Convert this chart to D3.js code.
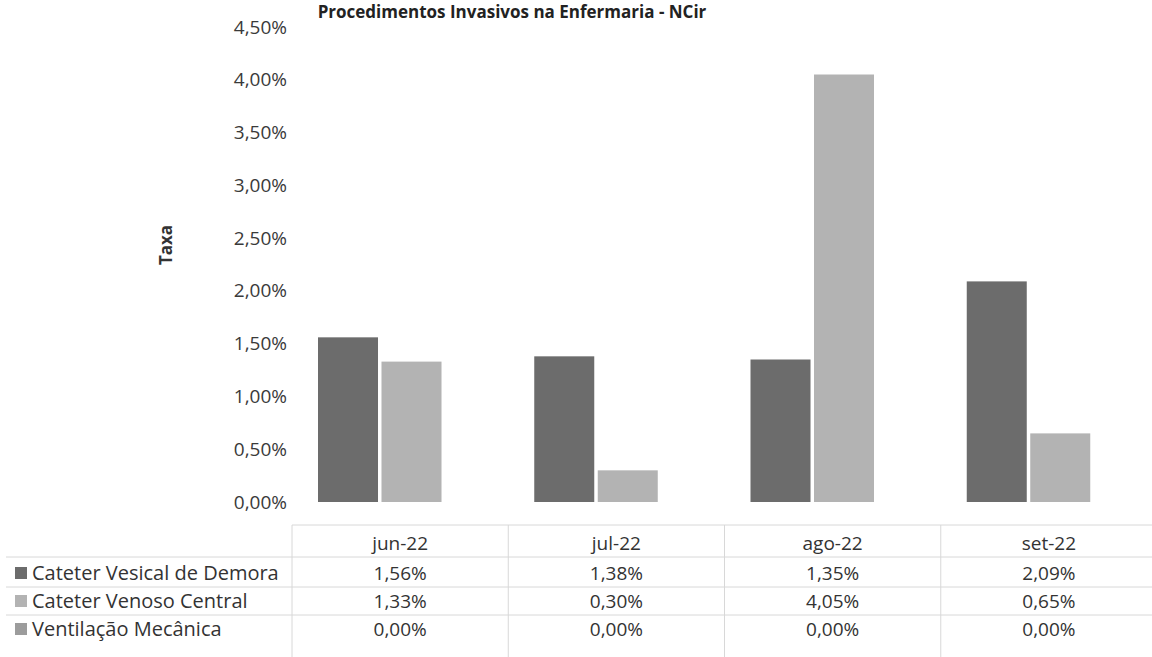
<!DOCTYPE html>
<html>
<head>
<meta charset="utf-8">
<script src="https://cdn.jsdelivr.net/npm/d3@7"></script>
<style>
  body { margin: 0; background: #fff; }
  text { font-family: "Open Sans", sans-serif; }
</style>
</head>
<body>
<div id="chart"></div>
<script>
var months = ["jun-22", "jul-22", "ago-22", "set-22"];
var seriesNames = ["Cateter Vesical de Demora", "Cateter Venoso Central", "Ventilação Mecânica"];
var vesical = [0.0156, 0.0138, 0.0135, 0.0209];
var venoso = [0.0133, 0.0030, 0.0405, 0.0065];
var ventilacao = [0, 0, 0, 0];
var seriesColors = ["#6c6c6c", "#b3b3b3", "#9c9c9c"];

var width = 1152, height = 657;
var values = [vesical, venoso, ventilacao];

var ptBR = d3.formatLocale({ decimal: ",", thousands: ".", grouping: [3], currency: ["R$", ""] });
var formatPercent = ptBR.format(".2%");

var svg = d3
  .select("#chart")
  .append("svg")
  .attr("width", width)
  .attr("height", height);

var x = d3.scaleBand().domain(months).range([292, 1157]).padding(0);
var x1 = d3.scaleBand().domain(d3.range(seriesNames.length)).range([26, 213]).paddingInner(0.055);
var y = d3.scaleLinear().domain([0, 0.045]).range([502, 27]);

// title (the scan cuts it at the top, kept readable here)
svg
  .append("text")
  .attr("x", 512)
  .attr("y", 18)
  .style("text-anchor", "middle")
  .style("font-size", "17px")
  .style("font-weight", "bold")
  .style("fill", "#222")
  .text("Procedimentos Invasivos na Enfermaria - NCir");

var yAxis = d3.axisLeft(y).ticks(9).tickSize(0).tickPadding(5).tickFormat(formatPercent);
svg
  .append("g")
  .attr("class", "y axis")
  .attr("transform", "translate(292,0)")
  .call(yAxis)
  .call(g => g.select(".domain").remove())
  .selectAll("text")
  .style("font-family", "Open Sans")
  .style("font-size", "19px")
  .style("fill", "#3a3a3a");

svg
  .append("text")
  .attr("transform", "rotate(-90)")
  .attr("x", -245)
  .attr("y", 166)
  .attr("dy", "0.35em")
  .style("text-anchor", "middle")
  .style("font-size", "17px")
  .style("font-weight", "bold")
  .style("fill", "#333")
  .text("Taxa");

// bars
var groups = svg
  .selectAll(".month")
  .data(months)
  .enter()
  .append("g")
  .attr("class", "month")
  .attr("transform", d => "translate(" + x(d) + ",0)");

groups
  .selectAll(".bar")
  .data((d, i) => values.map((s, k) => ({ k: k, value: s[i] })))
  .enter()
  .append("rect")
  .attr("class", "bar")
  .attr("x", d => x1(d.k))
  .attr("width", x1.bandwidth())
  .attr("y", d => y(d.value))
  .attr("height", d => y(0) - y(d.value))
  .style("fill", d => seriesColors[d.k]);

// data table under the plot
var headerY = 543;
var rowY = [573, 601, 629];
var lineColor = "#d8d8d8";
var table = svg.append("g").attr("class", "table");

table
  .append("line")
  .attr("x1", x.range()[0]).attr("x2", width)
  .attr("y1", 525).attr("y2", 525)
  .style("stroke", lineColor);

[557, 587, 615].forEach(ly => {
  table
    .append("line")
    .attr("x1", 6).attr("x2", width)
    .attr("y1", ly).attr("y2", ly)
    .style("stroke", lineColor);
});

months.forEach(m => {
  table
    .append("line")
    .attr("x1", x(m)).attr("x2", x(m))
    .attr("y1", 525).attr("y2", height)
    .style("stroke", lineColor);
});

table
  .selectAll(".head")
  .data(months)
  .enter()
  .append("text")
  .attr("class", "head")
  .attr("x", d => x(d) + x.bandwidth() / 2)
  .attr("y", headerY)
  .attr("dy", "0.35em")
  .style("text-anchor", "middle")
  .style("font-size", "19px")
  .style("fill", "#333")
  .text(d => d);

seriesNames.forEach((name, k) => {
  table
    .append("rect")
    .attr("x", 15)
    .attr("y", rowY[k] - 6)
    .attr("width", 12)
    .attr("height", 12)
    .style("fill", seriesColors[k]);
  table
    .append("text")
    .attr("x", 32)
    .attr("y", rowY[k])
    .attr("dy", "0.35em")
    .style("font-size", "20px")
    .style("fill", "#333")
    .text(name);
  table
    .selectAll(".cell" + k)
    .data(values[k])
    .enter()
    .append("text")
    .attr("class", "cell" + k)
    .attr("x", (d, i) => x(months[i]) + x.bandwidth() / 2)
    .attr("y", rowY[k])
    .attr("dy", "0.35em")
    .style("text-anchor", "middle")
    .style("font-size", "19px")
    .style("fill", "#333")
    .text(d => formatPercent(d));
});
</script>
</body>
</html>
